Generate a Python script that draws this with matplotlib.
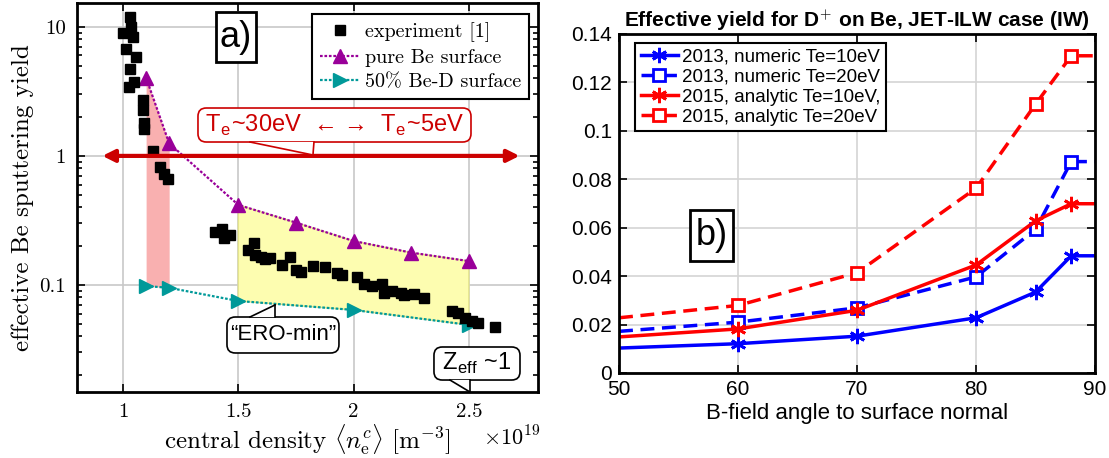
import matplotlib
matplotlib.use("Agg")
import matplotlib.pyplot as plt
from matplotlib.patches import FancyBboxPatch
import numpy as np

SANS = ["Liberation Sans", "DejaVu Sans"]
SERIF = ["cmr10", "DejaVu Serif"]
plt.rcParams["mathtext.fontset"] = "cm"
plt.rcParams["axes.unicode_minus"] = False

# ---- panel a) : effective Be sputtering yield vs central density (x1e19) ----
exp_density = [1.030, 1.035, 1.001, 1.045, 1.012, 1.055, 1.030, 1.049, 1.026,
               1.088, 1.088, 1.091, 1.091, 1.132, 1.161, 1.178, 1.197,
               1.400, 1.429, 1.436, 1.462, 1.570, 1.540, 1.574, 1.599, 1.617,
               1.639, 1.690, 1.723, 1.752, 1.770, 1.825, 1.875, 1.929, 1.951,
               2.013, 2.045, 2.081, 2.125, 2.132, 2.168, 2.204, 2.219, 2.262,
               2.306, 2.429, 2.451, 2.483, 2.512, 2.540, 2.613]
exp_yield = [12.0, 10.05, 8.94, 8.41, 6.71, 5.89, 4.72, 3.77, 3.41,
             2.69, 2.28, 1.79, 1.61, 1.09, 0.818, 0.725, 0.659,
             0.259, 0.270, 0.230, 0.244, 0.210, 0.187, 0.171, 0.166, 0.158,
             0.161, 0.143, 0.164, 0.131, 0.125, 0.140, 0.137, 0.123, 0.120,
             0.115, 0.102, 0.098, 0.102, 0.0872, 0.0904, 0.0872, 0.0836, 0.0851,
             0.0788, 0.0632, 0.0610, 0.0552, 0.0529, 0.0510, 0.0475]
pure_density = [1.1, 1.2, 1.5, 1.75, 2.0, 2.25, 2.5]
pure_be = [4.03, 1.25, 0.417, 0.304, 0.219, 0.178, 0.153]
bed_density = [1.1, 1.2, 1.5, 2.0, 2.5]
bed_50 = [0.098, 0.095, 0.0751, 0.064, 0.049]
a_xticks = [1, 1.5, 2, 2.5]
a_xticklabels = ["1", "1.5", "2", "2.5"]
a_yticks = [0.1, 1, 10]
a_yticklabels = ["0.1", "1", "10"]

# ---- panel b) : effective yield vs B-field angle ----
angle = [50, 60, 70, 80, 85, 88, 90]
y2013_10 = [0.0103, 0.0121, 0.0152, 0.0228, 0.0334, 0.0484, 0.0484]
y2013_20 = [0.0172, 0.0210, 0.0269, 0.0397, 0.0593, 0.0873, 0.0873]
y2015_10 = [0.0149, 0.0182, 0.0259, 0.0446, 0.0628, 0.0699, 0.0699]
y2015_20 = [0.0228, 0.0279, 0.0414, 0.0763, 0.1110, 0.1310, 0.1310]
b_yticks = [0, 0.02, 0.04, 0.06, 0.08, 0.1, 0.12, 0.14]
b_yticklabels = ["0", "0.02", "0.04", "0.06", "0.08", "0.1", "0.12", "0.14"]
b_xticks = [50, 60, 70, 80, 90]

fig = plt.figure(figsize=(11.09, 4.58), dpi=100)
ax = fig.add_axes([0.0694, 0.1441, 0.4157, 0.8493])
bx = fig.add_axes([0.5582, 0.1856, 0.4292, 0.7402])


def callout(ax, text, box, base, tip, color, size, aspect):
    """Rounded text box with a little pointer; all coords in axes fraction."""
    x0, x1, y0, y1 = box
    ax.add_patch(FancyBboxPatch((x0, y0), x1 - x0, y1 - y0,
                                boxstyle="round,pad=0,rounding_size=0.018",
                                mutation_aspect=aspect, transform=ax.transAxes,
                                fc="white", ec=color, lw=1.2, zorder=6,
                                clip_on=False))
    ax.fill([base[0], base[1], tip[0]], [base[2], base[2], tip[1]],
            transform=ax.transAxes, color="white", lw=0, zorder=7,
            clip_on=False)
    for bxp in base[:2]:
        ax.plot([bxp, tip[0]], [base[2], tip[1]], transform=ax.transAxes,
                color=color, lw=1.2, zorder=8, clip_on=False)
    ax.text((x0 + x1) / 2, (y0 + y1) / 2, text, transform=ax.transAxes,
            ha="center", va="center", color=color, fontsize=size,
            family=SANS, zorder=9)


def label_box(ax, text, box, size):
    x0, x1, y0, y1 = box
    ax.add_patch(FancyBboxPatch((x0, y0), x1 - x0, y1 - y0,
                                boxstyle="square,pad=0", transform=ax.transAxes,
                                fc="white", ec="black", lw=2, zorder=6))
    ax.text((x0 + x1) / 2, (y0 + y1) / 2, text, transform=ax.transAxes,
            ha="center", va="center", fontsize=size, family=SANS, zorder=7)


# ---------------- panel a ----------------
ax.set_yscale("log")
ax.fill_between(pure_density[:2], pure_be[:2], bed_50[:2],
                color="#f9b0b0", lw=0, zorder=1)
up_x, up_y = pure_density[2:], pure_be[2:]
lo_x, lo_y = bed_density[2:], bed_50[2:]
ax.fill(np.concatenate([up_x, lo_x[::-1]]), np.concatenate([up_y, lo_y[::-1]]),
        fc="#fdfdb0", ec="#e6e68c", lw=1, zorder=1)
ax.plot(exp_density, exp_yield, "s", color="black", ms=6.5, zorder=4,
        label="experiment [1]")
ax.plot(pure_density, pure_be, color="#990099", ls=(0, (1.2, 0.8)), lw=1.6,
        marker="^", ms=10, mfc="#990099", mec="#990099", zorder=3,
        label="pure Be surface")
ax.plot(bed_density, bed_50, color="#009999", ls=(0, (1.2, 0.8)), lw=1.6,
        marker=">", ms=10, mfc="#009999", mec="#009999", zorder=3,
        label="50% Be-D surface")

ax.set_xlim(0.8, 2.8)
ax.set_ylim(0.0148, 15.3)
ax.set_xticks(a_xticks)
ax.set_xticklabels(a_xticklabels, family=SERIF, fontsize=15)
ax.set_yticks(a_yticks)
ax.set_yticklabels(a_yticklabels, family=SERIF, fontsize=15)
ax.yaxis.set_minor_formatter(matplotlib.ticker.NullFormatter())
ax.tick_params(which="both", direction="in", top=True, right=True, width=1.2)
ax.tick_params(which="major", length=6, pad=8)
ax.tick_params(which="minor", length=3.5)
ax.grid(True, which="major", color="#c8c8c8", lw=1.2)
ax.set_axisbelow(True)
for s in ax.spines.values():
    s.set_linewidth(2)
ax.set_ylabel("effective Be sputtering yield", family=SERIF, fontsize=18,
              labelpad=4)
ax.set_xlabel(r"central density $\langle n_{\rm e}^{c}\rangle$ [m$^{-3}$]",
              family=SERIF, fontsize=18, labelpad=1)
ax.text(0.88, -0.118, r"$\times 10^{19}$", transform=ax.transAxes,
        fontsize=16, ha="left", va="center")
ax.legend(loc="upper right", bbox_to_anchor=(0.9805, 0.9717), borderaxespad=0,
          prop={"family": SERIF, "size": 14.5}, fancybox=False,
          edgecolor="black", framealpha=1, handlelength=1.9, handletextpad=0.3,
          labelspacing=0.33, borderpad=0.4).get_frame().set_linewidth(1.5)

ax.annotate("", xy=(2.72, 1), xytext=(0.91, 1),
            arrowprops=dict(arrowstyle="<|-|>", color="#cc0000", lw=3,
                            mutation_scale=18, shrinkA=0, shrinkB=0), zorder=5)

asp_a = 461 / 389
callout(ax, r"T$_\mathregular{e}$~30eV  ← →  T$_\mathregular{e}$~5eV",
        (0.2625, 0.8547, 0.6427, 0.7301), (0.3753, 0.5141, 0.6427),
        (0.5119, 0.6093), "#cc0000", 17, asp_a)
callout(ax, "\u201cERO-min\u201d", (0.3254, 0.5683, 0.1003, 0.1928),
        (0.3753, 0.4295, 0.1928), (0.4295, 0.2237), "black", 16, asp_a)
callout(ax, r"Z$_\mathregular{eff}$ ~1", (0.7744, 0.9610, 0.0308, 0.1157),
        (0.8091, 0.8525, 0.0308), (0.8525, 0.0), "black", 17, asp_a)
label_box(ax, "a)", (0.3015, 0.3883, 0.8483, 0.9769), 26)

# ---------------- panel b ----------------
inner = [1, 2, 3, 4, 5]
bx.plot(angle, y2013_10, color="#0000ff", lw=2.5, marker=(6, 2, 0), ms=11,
        mew=2, markevery=inner, label="2013, numeric Te=10eV")
bx.plot(angle, y2013_20, color="#0000ff", lw=2.5, dashes=(4, 2.2), marker="s",
        ms=9, mfc="white", mew=2, markevery=inner,
        label="2013, numeric Te=20eV")
bx.plot(angle, y2015_10, color="#ff0000", lw=2.5, marker=(6, 2, 0), ms=11,
        mew=2, markevery=inner, label="2015, analytic Te=10eV,")
bx.plot(angle, y2015_20, color="#ff0000", lw=2.5, dashes=(4, 2.2), marker="s",
        ms=9, mfc="white", mew=2, markevery=inner,
        label="2015, analytic Te=20eV")
bx.set_xlim(50, 90)
bx.set_ylim(0, 0.14)
bx.set_xticks(b_xticks)
bx.set_xticklabels([str(v) for v in b_xticks], family=SANS, fontsize=15)
bx.set_yticks(b_yticks)
bx.set_yticklabels(b_yticklabels, family=SANS, fontsize=15)
bx.tick_params(direction="in", top=True, right=True, length=6, width=1.2,
               pad=5)
bx.grid(True, color="#d4d4d4", lw=1.2)
bx.set_axisbelow(True)
for s in bx.spines.values():
    s.set_linewidth(2)
bx.set_xlabel("B-field angle to surface normal", family=SANS, fontsize=16,
              labelpad=3)
bx.set_title(r"Effective yield for D$^\mathbf{+}$ on Be, JET-ILW case (IW)",
             family=SANS, fontsize=15, fontweight="bold", pad=5)
bx.legend(loc="upper left", bbox_to_anchor=(0.0336, 0.9735), borderaxespad=0,
          prop={"family": SANS, "size": 13.5}, fancybox=False,
          edgecolor="black", framealpha=1, handlelength=2.0, handletextpad=0.2,
          labelspacing=0.15, borderpad=0.3).get_frame().set_linewidth(1.5)
label_box(bx, "b)", (0.1492, 0.2395, 0.3304, 0.4808), 26)

fig.savefig("out.png", dpi=100)
